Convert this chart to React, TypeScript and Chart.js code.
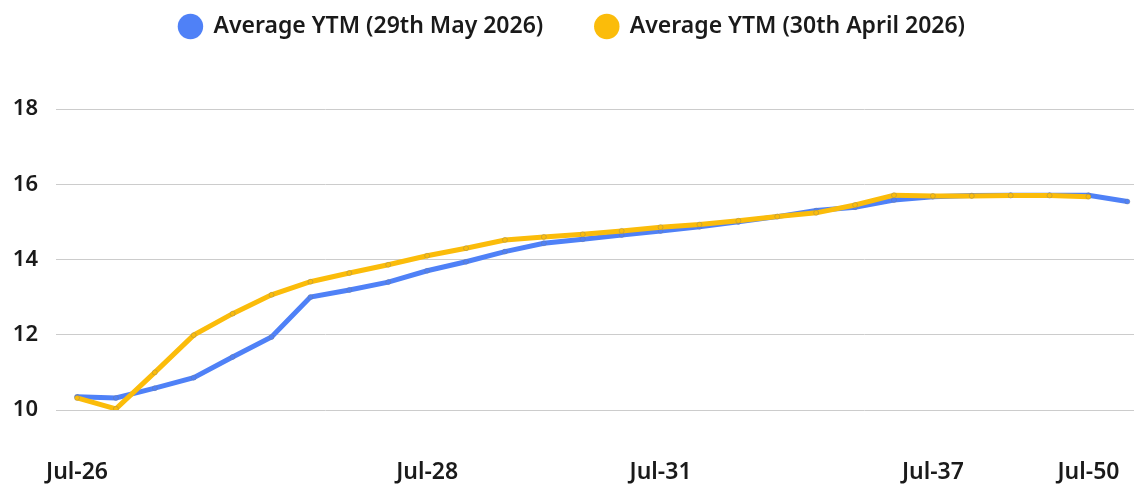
import React, { useEffect, useRef } from "react";
import { Chart, registerables } from "chart.js";

Chart.register(...registerables);

// Category labels (one per data point; empty = no tick label shown)
const categories: string[] = [
  "Jul-26", "", "", "", "", "", "", "", "", "Jul-28",
  "", "", "", "", "", "Jul-31", "", "", "", "",
  "", "", "Jul-37", "", "", "", "Jul-50", "",
];

const seriesMayLabel = "Average YTM (29th May 2026)";
const seriesMay: (number | null)[] = [
  10.35, 10.32, 10.58, 10.86, 11.41, 11.94, 13.0, 13.19, 13.4, 13.7,
  13.94, 14.21, 14.43, 14.54, 14.65, 14.76, 14.87, 15.0, 15.14, 15.3,
  15.39, 15.58, 15.67, 15.7, 15.71, 15.71, 15.71, 15.54,
];

const seriesAprilLabel = "Average YTM (30th April 2026)";
const seriesApril: (number | null)[] = [
  10.32, 10.03, 11.0, 11.99, 12.56, 13.06, 13.41, 13.64, 13.86, 14.1,
  14.3, 14.52, 14.6, 14.67, 14.76, 14.86, 14.93, 15.03, 15.14, 15.24,
  15.45, 15.71, 15.69, 15.69, 15.7, 15.7, 15.67, null,
];

const yTickValues: number[] = [10, 12, 14, 16, 18];

const BLUE = "#4f81f7";
const YELLOW = "#fbbc0a";
const FONT = "'Noto Sans', sans-serif";
const TEXT = "#1a1a1a";

const W = 1134;
const H = 484;

export default function App() {
  const canvasRef = useRef<HTMLCanvasElement | null>(null);

  useEffect(() => {
    if (!canvasRef.current) return;
    const LEGEND_PAD = 52;
    const legendTweak = {
      id: "legendTweak",
      afterInit(chart: any) {
        const legend = chart.legend;
        if (!legend) return;
        const origFit = legend.fit;
        legend.fit = function () {
          origFit.call(this);
          this.height = 109;
        };
        const origDraw = legend.draw;
        legend.draw = function (...args: any[]) {
          const ctx = this.ctx;
          ctx.save();
          ctx.translate(5, -(LEGEND_PAD - 15));
          origDraw.apply(this, args);
          ctx.restore();
        };
      },
    };

    const toPts = (arr: (number | null)[]) =>
      arr.map((v, i) => ({ x: i, y: v }));

    const chart = new Chart(canvasRef.current, {
      type: "line",
      data: {
        datasets: [
          {
            label: seriesMayLabel,
            data: toPts(seriesMay) as any,
            borderColor: BLUE,
            backgroundColor: BLUE,
            borderWidth: 5,
            pointRadius: 2.5,
            pointBackgroundColor: BLUE,
            pointBorderColor: "rgba(120,120,120,0.35)",
            pointBorderWidth: 1,
            tension: 0,
            order: 1,
          },
          {
            label: seriesAprilLabel,
            data: toPts(seriesApril) as any,
            borderColor: YELLOW,
            backgroundColor: YELLOW,
            borderWidth: 5,
            pointRadius: 2.5,
            pointBackgroundColor: YELLOW,
            pointBorderColor: "rgba(120,120,120,0.35)",
            pointBorderWidth: 1,
            tension: 0,
            order: 0,
          },
        ],
      },
      options: {
        animation: false,
        responsive: false,
        maintainAspectRatio: false,
        layout: { padding: 0, autoPadding: false },
        plugins: {
          tooltip: { enabled: false },
          legend: {
            position: "top",
            align: "center",
            labels: {
              usePointStyle: true,
              pointStyle: "circle",
              boxHeight: 18,
              padding: LEGEND_PAD,
              color: TEXT,
              font: { family: FONT, size: 23, weight: "600" as any },
              sort: (a: any, b: any) => a.datasetIndex - b.datasetIndex,
              generateLabels: (chart: any) =>
                Chart.defaults.plugins.legend.labels
                  .generateLabels(chart)
                  .map((l: any) => ({
                    ...l,
                    strokeStyle: l.fillStyle,
                    lineWidth: 0,
                  })),
            },
          },
        },
        scales: {
          x: {
            type: "linear",
            min: -0.54,
            max: 27.17,
            grid: { display: false, drawTicks: true, tickLength: 49 },
            border: { display: false },
            afterBuildTicks: (scale: any) => {
              scale.ticks = categories
                .map((c, i) => ({ value: i, label: c }))
                .filter((t) => t.label !== "");
            },
            afterFit: (scale: any) => {
              scale.height = 74;
            },
            ticks: {
              autoSkip: false,
              maxRotation: 0,
              padding: 0,
              color: TEXT,
              font: { family: FONT, size: 23, weight: "600" as any },
              callback: (value: any) => categories[value as number] ?? "",
            },
          },
          y: {
            min: yTickValues[0],
            max: yTickValues[yTickValues.length - 1],
            afterBuildTicks: (scale: any) => {
              scale.ticks = yTickValues.map((v) => ({ value: v }));
            },
            afterFit: (scale: any) => {
              scale.width = 56;
            },
            grid: { color: "#cccccc", lineWidth: 1, drawTicks: false },
            border: { display: false },
            ticks: {
              padding: 18,
              color: TEXT,
              font: { family: FONT, size: 22, weight: "600" as any },
            },
          },
        },
      },
      plugins: [legendTweak],
    });
    return () => chart.destroy();
  }, []);

  return (
    <div
      style={{
        position: "absolute",
        left: 0,
        top: 0,
        width: W,
        height: H,
        background: "#ffffff",
      }}
    >
      <canvas ref={canvasRef} width={W} height={H} style={{ display: "block" }} />
    </div>
  );
}
